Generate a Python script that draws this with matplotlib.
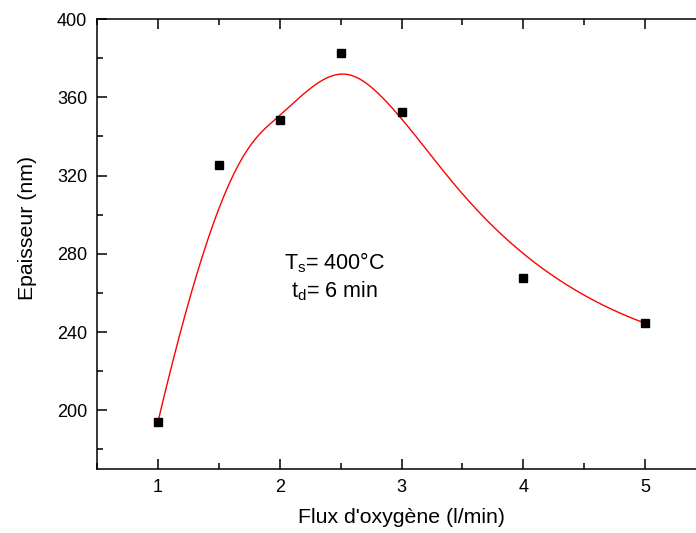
import numpy as np
import matplotlib.pyplot as plt
from matplotlib.ticker import MultipleLocator

plt.rcParams['font.family'] = ['Liberation Sans', 'DejaVu Sans']

# measured data
flux = [1.0, 1.5, 2.0, 2.5, 3.0, 4.0, 5.0]
epaisseur = [194, 325.5, 348.5, 382.5, 352.5, 267.5, 244.5]


def bspline(px, py, k=3, num=400):
    # clamped uniform B-spline using the data points as control points
    n = len(px)
    inner = np.arange(1, n - k) / (n - k)
    knots = np.concatenate([np.zeros(k + 1), inner, np.ones(k + 1)])
    ctrl = np.column_stack([px, py])
    out = []
    for t in np.linspace(0, 1, num):
        if t >= 1.0:
            out.append(ctrl[-1])
            continue
        s = np.searchsorted(knots, t, side='right') - 1
        d = [ctrl[j + s - k].copy() for j in range(k + 1)]
        for r in range(1, k + 1):
            for j in range(k, r - 1, -1):
                i = j + s - k
                a = (t - knots[i]) / (knots[i + k + 1 - r] - knots[i])
                d[j] = (1 - a) * d[j - 1] + a * d[j]
        out.append(d[k])
    out = np.array(out)
    return out[:, 0], out[:, 1]


cx, cy = bspline(flux, epaisseur)

fig = plt.figure(figsize=(6.96, 5.33), dpi=100)
ax = fig.add_axes([97 / 696, 64 / 533, 609 / 696, 450 / 533])

ax.plot(cx, cy, color='red', linewidth=1.0)
ax.plot(flux, epaisseur, linestyle='none', marker='s', markersize=6.3, color='black')

ax.set_xlim(0.5, 5.5)
ax.set_ylim(170, 400)
ax.xaxis.set_major_locator(MultipleLocator(1))
ax.xaxis.set_minor_locator(MultipleLocator(0.5))
ax.yaxis.set_major_locator(MultipleLocator(40))
ax.yaxis.set_minor_locator(MultipleLocator(20))

for s in ax.spines.values():
    s.set_linewidth(1.1)
ax.tick_params(which='both', direction='in', top=True, right=True, width=1.1, labelsize=13)
ax.tick_params(which='major', length=7, pad=7)
ax.tick_params(which='minor', length=4)

ax.set_xlabel("Flux d'oxygène (l/min)", fontsize=15.3, labelpad=9)
ax.set_ylabel('Epaisseur (nm)', fontsize=15.3)
ax.yaxis.set_label_coords(-0.098, 0.536)

ax.text(2.45, 275.5, r'T$_\mathregular{s}$= 400°C', fontsize=15.5, ha='center', va='center')
ax.text(2.45, 261.0, r't$_\mathregular{d}$= 6 min', fontsize=15.5, ha='center', va='center')

fig.savefig('out.png', dpi=100)
